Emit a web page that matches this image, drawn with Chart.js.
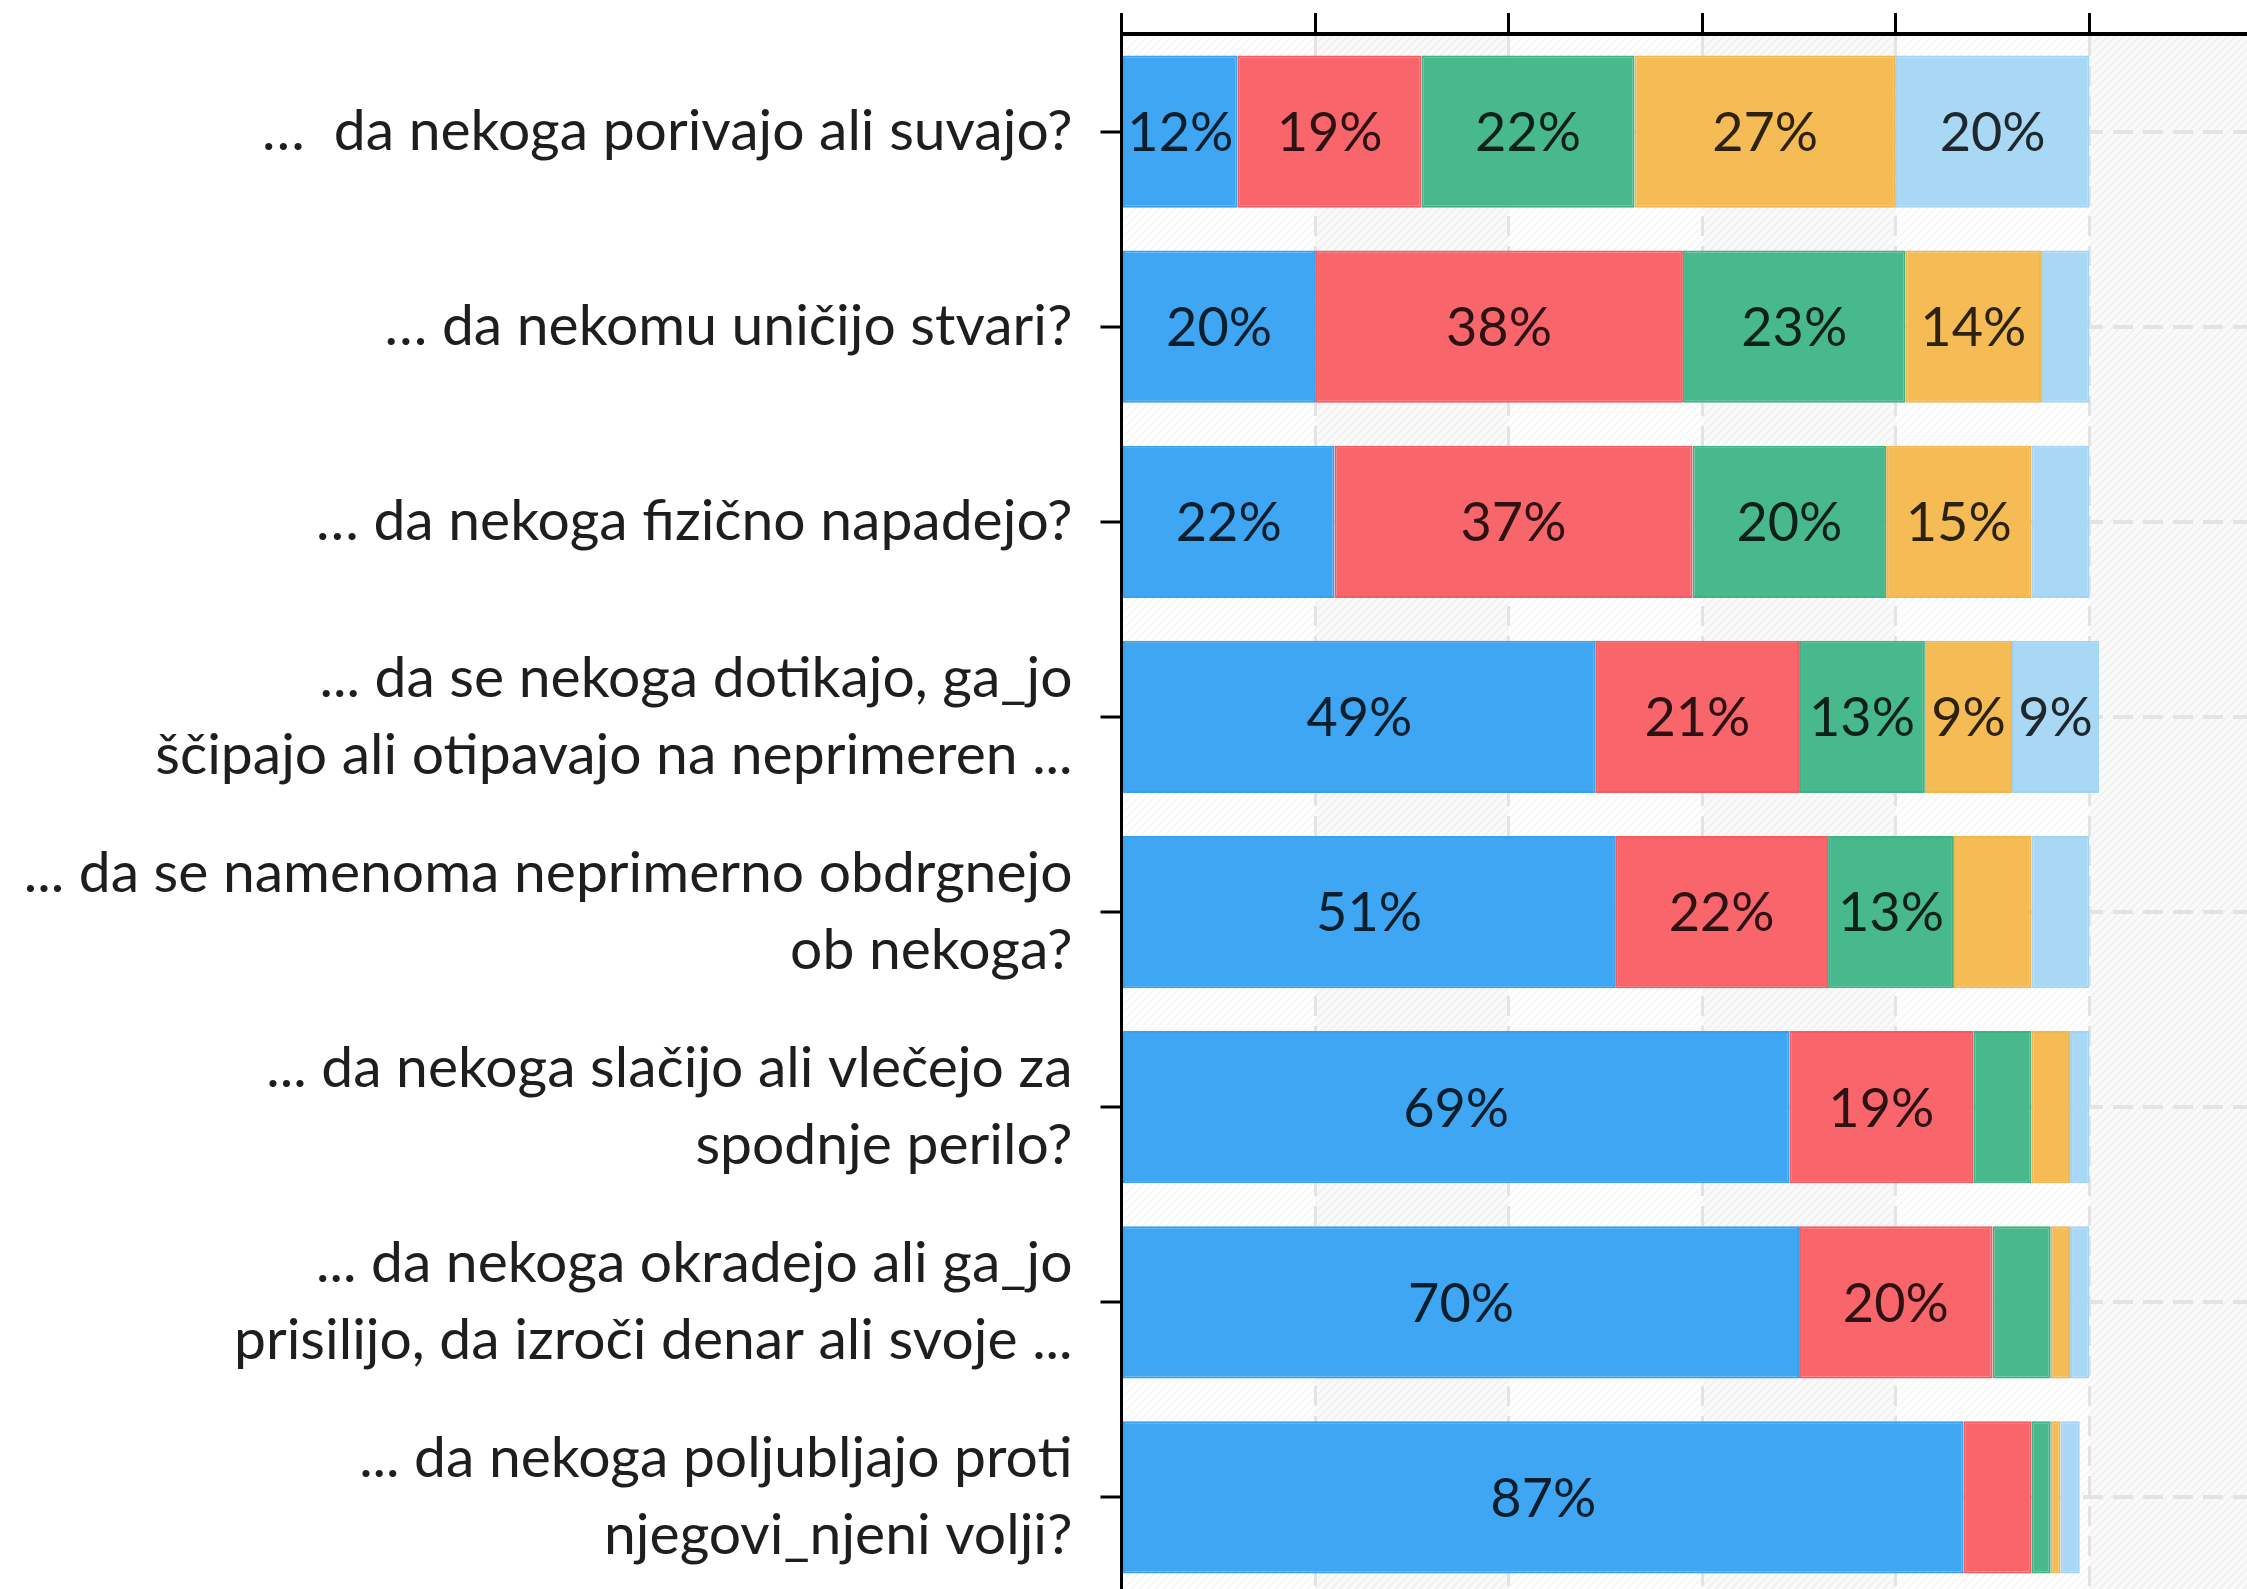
<!DOCTYPE html>
<html>
<head>
<meta charset="utf-8">
<script src="https://cdn.jsdelivr.net/npm/chart.js@4.4.1/dist/chart.umd.min.js"></script>
<style>
  html, body { margin: 0; padding: 0; background: #fff; overflow: hidden; }
  #wrap { width: 2290px; height: 1595px; }
</style>
</head>
<body>
<div id="wrap"><canvas id="chart" width="2290" height="1595"></canvas></div>
<script>
const categories = [
  "…  da nekoga porivajo ali suvajo?",
  "… da nekomu uničijo stvari?",
  "… da nekoga fizično napadejo?",
  ["... da se nekoga dotikajo, ga_jo", "ščipajo ali otipavajo na neprimeren ..."],
  ["... da se namenoma neprimerno obdrgnejo", "ob nekoga?"],
  ["... da nekoga slačijo ali vlečejo za", "spodnje perilo?"],
  ["... da nekoga okradejo ali ga_jo", "prisilijo, da izroči denar ali svoje ..."],
  ["... da nekoga poljubljajo proti", "njegovi_njeni volji?"]
];

const series1 = [12, 20, 22, 49, 51, 69, 70, 87];
const series2 = [19, 38, 37, 21, 22, 19, 20, 7];
const series3 = [22, 23, 20, 13, 13, 6, 6, 2];
const series4 = [27, 14, 15, 9, 8, 4, 2, 1];
const series5 = [20, 5, 6, 9, 6, 2, 2, 2];

const xTicks = [0, 20, 40, 60, 80, 100, 120];

const fills = ['#3fa6f4', '#f8656b', '#48b98d', '#f5bc55', '#a9d8f5'];
const borders = ['#36a0f1', '#f45b62', '#3fb386', '#f2b64b', '#a1d3f3'];

const makeHatch = (ctx) => {
  let c = document.createElement('canvas');
  c.width = 8; c.height = 8;
  let g = c.getContext('2d');
  g.strokeStyle = 'rgba(0,0,0,0.035)';
  g.lineWidth = 2;
  g.beginPath();
  g.moveTo(0, 8); g.lineTo(8, 0);
  g.moveTo(-2, 2); g.lineTo(2, -2);
  g.moveTo(6, 10); g.lineTo(10, 6);
  g.stroke();
  return ctx.createPattern(c, 'repeat');
};

// striped background of the plot area
const bandsPlugin = {
  id: 'bands',
  beforeDraw(chart) {
    const {ctx, chartArea: a, scales: {x}} = chart;
    ctx.save();
    ctx.fillStyle = '#fff';
    ctx.fillRect(a.left, a.top, a.right - a.left, a.bottom - a.top);
    for (let i = 1; i < xTicks.length - 1; i += 2) {
      let x1 = x.getPixelForValue(xTicks[i]);
      let x2 = x.getPixelForValue(xTicks[i + 1]);
      ctx.fillStyle = 'rgba(0,0,0,0.018)';
      ctx.fillRect(x1, a.top, x2 - x1, a.bottom - a.top);
    }
    ctx.fillStyle = makeHatch(ctx);
    ctx.fillRect(a.left, a.top, a.right - a.left, a.bottom - a.top);
    ctx.restore();
  }
};

// percent labels inside the segments
const segLabels = {
  id: 'segLabels',
  afterDatasetsDraw(chart) {
    const ctx = chart.ctx;
    ctx.save();
    ctx.font = '54px Lato';
    ctx.fillStyle = 'rgba(0,0,0,0.82)';
    ctx.textAlign = 'center';
    ctx.textBaseline = 'middle';
    chart.data.datasets.forEach((ds, i) => {
      chart.getDatasetMeta(i).data.forEach((bar, j) => {
        let v = ds.data[j];
        if (v < 9) return;
        const {x, base, y} = bar.getProps(['x', 'base', 'y'], true);
        ctx.fillText(v + '%', (x + base) / 2, y + 2);
      });
    });
    ctx.restore();
  }
};

const allSeries = [series1, series2, series3, series4, series5];

new Chart(document.getElementById('chart'), {
  type: 'bar',
  data: {
    labels: categories,
    datasets: allSeries.map((s, i) => ({
      label: 'serija ' + (i + 1),
      data: s,
      backgroundColor: fills[i],
      borderColor: borders[i],
      borderWidth: 2,
      borderSkipped: false,
      categoryPercentage: 0.8,
      barPercentage: 0.975
    }))
  },
  options: {
    indexAxis: 'y',
    responsive: false,
    animation: false,
    devicePixelRatio: 1,
    layout: { padding: { top: 13, right: 7, left: 0, bottom: 0 } },
    plugins: {
      legend: { display: false },
      tooltip: { enabled: false }
    },
    scales: {
      x: {
        position: 'top',
        stacked: true,
        min: 0,
        max: 120,
        afterBuildTicks: (scale) => { scale.ticks = xTicks.map(v => ({ value: v })); },
        afterFit: (scale) => { scale.height = 21; scale.paddingLeft = 0; scale.paddingRight = 0; },
        ticks: { display: false },
        grid: {
          color: '#e3e3e3',
          lineWidth: 3,
          tickColor: '#000',
          tickWidth: 3,
          tickLength: 21
        },
        border: { color: '#000', width: 4, dash: [20, 10] }
      },
      y: {
        stacked: true,
        afterFit: (scale) => {
          scale.width = 1121.5;
          scale.paddingTop = 0;
          scale.paddingBottom = 0;
        },
        ticks: {
          autoSkip: false,
          padding: 28,
          color: '#1e1e1e',
          font: { family: 'Lato', size: 57, lineHeight: 1.35 }
        },
        grid: {
          offset: false,
          color: '#e3e3e3',
          lineWidth: 4,
          tickColor: '#000',
          tickWidth: 3,
          tickLength: 21
        },
        border: { color: '#000', width: 3, dash: [20, 10] }
      }
    }
  },
  plugins: [bandsPlugin, segLabels]
});
</script>
</body>
</html>
